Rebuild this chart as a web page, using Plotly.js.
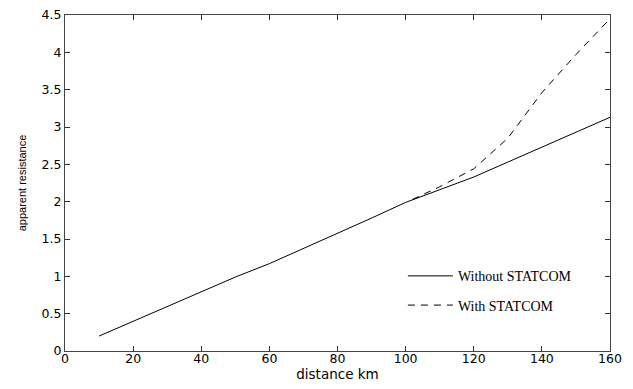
<!DOCTYPE html>
<html>
<head>
<meta charset="utf-8">
<script src="https://cdn.plot.ly/plotly-3.0.1.min.js"></script>
<style>html,body{margin:0;padding:0;background:#fff;}#chart{width:633px;height:389px;}</style>
</head>
<body>
<div id="chart"></div>
<script>
const distWithout = [10, 20, 30, 40, 50, 60, 70, 80, 90, 100, 110, 120, 130, 140, 150, 160];
const resWithout = [0.2, 0.4, 0.6, 0.8, 0.99, 1.17, 1.37, 1.57, 1.78, 1.99, 2.16, 2.33, 2.53, 2.73, 2.93, 3.13];
const distWith = [102, 110, 120, 130, 140, 150, 160];
const resWith = [2.03, 2.2, 2.44, 2.85, 3.46, 3.97, 4.45];
const xTicks = [0, 20, 40, 60, 80, 100, 120, 140, 160];
const yTicks = [0, 0.5, 1, 1.5, 2, 2.5, 3, 3.5, 4, 4.5];
const yTickText = ['0', '0.5', '1', '1.5', '2', '2.5', '3', '3.5', '4', '4.5'];

const traces = [
  {x: distWithout, y: resWithout, mode: 'lines', name: 'Without STATCOM',
   line: {color: '#000', width: 1}, legendgroup: 'a'},
  {x: distWith, y: resWith, mode: 'lines', name: 'With STATCOM',
   line: {color: '#000', width: 1, dash: '7px,6px'}, legendgroup: 'b'}
];

const tickFont = {family: 'DejaVu Sans, sans-serif', size: 12.5, color: '#000'};
const layout = {
  width: 633, height: 389,
  margin: {l: 65, r: 23, t: 15, b: 38},
  paper_bgcolor: '#fff', plot_bgcolor: '#fff',
  showlegend: true,
  legend: {x: 0.62, y: 0.27, xanchor: 'left', yanchor: 'top', bgcolor: 'rgba(0,0,0,0)',
           font: {family: 'Liberation Serif, Times New Roman, serif', size: 14, color: '#000'},
           tracegroupgap: 8, traceorder: 'grouped', itemwidth: 45},
  xaxis: {range: [0, 160], tickvals: xTicks, ticks: 'inside', ticklen: 5, tickcolor: '#333',
          showline: true, linecolor: '#444', linewidth: 1, mirror: 'ticks', showgrid: false, zeroline: false,
          tickfont: tickFont, ticklabelstandoff: -4,
          title: {text: 'distance km', font: {family: 'DejaVu Sans, sans-serif', size: 13.5, color: '#000'}, standoff: 0}},
  yaxis: {range: [0, 4.5], tickvals: yTicks, ticktext: yTickText, ticks: 'inside', ticklen: 5, tickcolor: '#333',
          showline: true, linecolor: '#444', linewidth: 1, mirror: 'ticks', showgrid: false, zeroline: false,
          tickfont: tickFont,
          title: {text: 'apparent resistance', font: {family: 'Liberation Sans, Arial, sans-serif', size: 11, color: '#000'}, standoff: 12}}
};
Plotly.newPlot('chart', traces, layout, {displayModeBar: false, staticPlot: true});
</script>
</body>
</html>
